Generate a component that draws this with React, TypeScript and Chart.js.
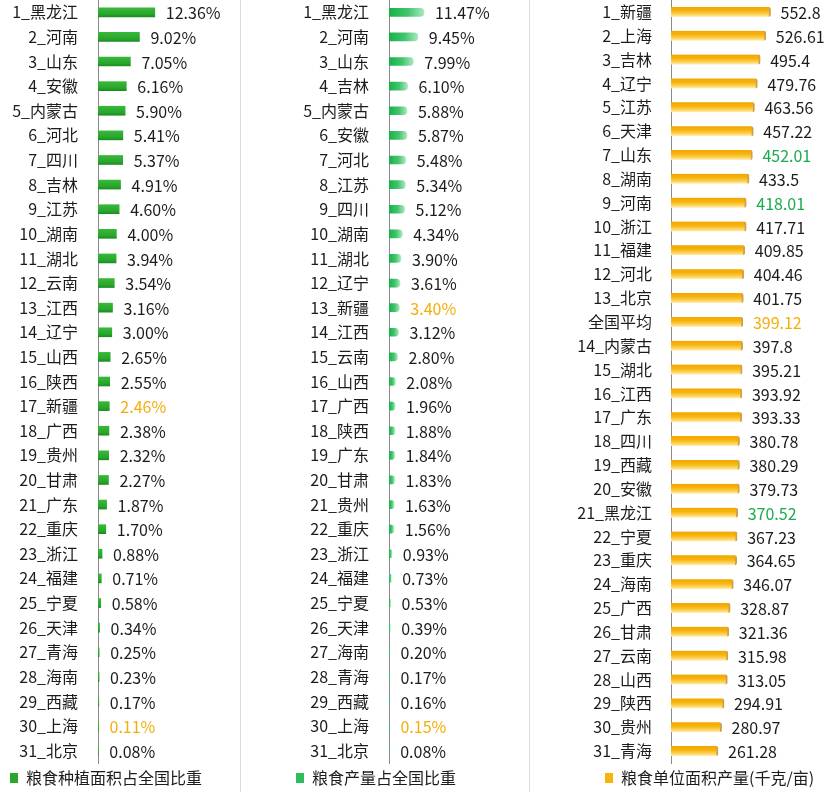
import { useEffect, useRef } from "react";
import { Chart, registerables } from "chart.js";

Chart.register(...registerables);

// 粮食种植面积占全国比重 (%)
const areaRegions = [
  "1_黑龙江", "2_河南", "3_山东", "4_安徽", "5_内蒙古", "6_河北", "7_四川", "8_吉林",
  "9_江苏", "10_湖南", "11_湖北", "12_云南", "13_江西", "14_辽宁", "15_山西", "16_陕西",
  "17_新疆", "18_广西", "19_贵州", "20_甘肃", "21_广东", "22_重庆", "23_浙江", "24_福建",
  "25_宁夏", "26_天津", "27_青海", "28_海南", "29_西藏", "30_上海", "31_北京",
];
const areaShares = [
  12.36, 9.02, 7.05, 6.16, 5.9, 5.41, 5.37, 4.91,
  4.6, 4.0, 3.94, 3.54, 3.16, 3.0, 2.65, 2.55,
  2.46, 2.38, 2.32, 2.27, 1.87, 1.7, 0.88, 0.71,
  0.58, 0.34, 0.25, 0.23, 0.17, 0.11, 0.08,
];

// 粮食产量占全国比重 (%)
const outputRegions = [
  "1_黑龙江", "2_河南", "3_山东", "4_吉林", "5_内蒙古", "6_安徽", "7_河北", "8_江苏",
  "9_四川", "10_湖南", "11_湖北", "12_辽宁", "13_新疆", "14_江西", "15_云南", "16_山西",
  "17_广西", "18_陕西", "19_广东", "20_甘肃", "21_贵州", "22_重庆", "23_浙江", "24_福建",
  "25_宁夏", "26_天津", "27_海南", "28_青海", "29_西藏", "30_上海", "31_北京",
];
const outputShares = [
  11.47, 9.45, 7.99, 6.1, 5.88, 5.87, 5.48, 5.34,
  5.12, 4.34, 3.9, 3.61, 3.4, 3.12, 2.8, 2.08,
  1.96, 1.88, 1.84, 1.83, 1.63, 1.56, 0.93, 0.73,
  0.53, 0.39, 0.2, 0.17, 0.16, 0.15, 0.08,
];

// 粮食单位面积产量 (千克/亩)
const yieldRegions = [
  "1_新疆", "2_上海", "3_吉林", "4_辽宁", "5_江苏", "6_天津", "7_山东", "8_湖南",
  "9_河南", "10_浙江", "11_福建", "12_河北", "13_北京", "全国平均", "14_内蒙古", "15_湖北",
  "16_江西", "17_广东", "18_四川", "19_西藏", "20_安徽", "21_黑龙江", "22_宁夏", "23_重庆",
  "24_海南", "25_广西", "26_甘肃", "27_云南", "28_山西", "29_陕西", "30_贵州", "31_青海",
];
const yieldValues = [
  552.8, 526.61, 495.4, 479.76, 463.56, 457.22, 452.01, 433.5,
  418.01, 417.71, 409.85, 404.46, 401.75, 399.12, 397.8, 395.21,
  393.92, 393.33, 380.78, 380.29, 379.73, 370.52, 367.23, 364.65,
  346.07, 328.87, 321.36, 315.98, 313.05, 294.91, 280.97, 261.28,
];

const INK = "#1c1c1c";
const ORANGE = "#f4ae0a";
const GREEN_TEXT = "#1aab4b";
const FONT_FAMILY = '"Noto Sans CJK SC", "Noto Sans", sans-serif';
const HEIGHT = 792;
const LEGEND_PAD = 3;
const LEGEND_DROP = 4;

const areaHighlights: Record<string, string> = { "17_新疆": ORANGE, "30_上海": ORANGE };
const outputHighlights: Record<string, string> = { "13_新疆": ORANGE, "30_上海": ORANGE };
const yieldHighlights: Record<string, string> = {
  "7_山东": GREEN_TEXT,
  "9_河南": GREEN_TEXT,
  "全国平均": ORANGE,
  "21_黑龙江": GREEN_TEXT,
};

type Fill = (
  ctx: CanvasRenderingContext2D,
  x0: number,
  x1: number,
  y: number,
  h: number
) => string | CanvasGradient;

interface PanelSpec {
  labels: string[];
  values: number[];
  legend: string;
  width: number;
  max: number;
  axisX: number;
  labelGap: number;
  legendX: number;
  valueGap: number;
  barH: number;
  format: (v: number) => string;
  highlights: Record<string, string>;
  swatch: string;
  fill: Fill;
  radius: any;
  edge: any;
  edgeColor: string;
}

const solidGreen: Fill = (ctx, _x0, _x1, y, h) => {
  const g = ctx.createLinearGradient(0, y - h / 2, 0, y + h / 2);
  g.addColorStop(0, "#38b83a");
  g.addColorStop(0.7, "#29a62c");
  g.addColorStop(1, "#1b8d21");
  return g;
};

const fadingGreen: Fill = (ctx, x0, x1) => {
  const g = ctx.createLinearGradient(x0, 0, Math.max(x1, x0 + 1), 0);
  g.addColorStop(0, "#17b04a");
  g.addColorStop(0.55, "#43c56e");
  g.addColorStop(1, "#a9e8bd");
  return g;
};

const goldTube: Fill = (ctx, _x0, _x1, y, h) => {
  const g = ctx.createLinearGradient(0, y - h / 2, 0, y + h / 2);
  g.addColorStop(0, "#f2a600");
  g.addColorStop(0.4, "#f7b40e");
  g.addColorStop(0.75, "#fdd35a");
  g.addColorStop(1, "#fff0bd");
  return g;
};

const pct = (v: number) => `${v.toFixed(2)}%`;

const panels: PanelSpec[] = [
  {
    labels: areaRegions,
    values: areaShares,
    legend: "粮食种植面积占全国比重",
    width: 240,
    max: 30.9,
    axisX: 98,
    labelGap: 20,
    legendX: 10,
    valueGap: 11,
    barH: 9,
    format: pct,
    highlights: areaHighlights,
    swatch: "#2aa62d",
    fill: solidGreen,
    radius: 0,
    edge: 0,
    edgeColor: "#2aa62d",
  },
  {
    labels: outputRegions,
    values: outputShares,
    legend: "粮食产量占全国比重",
    width: 288,
    max: 45.9,
    axisX: 148,
    labelGap: 20,
    legendX: 55,
    valueGap: 11,
    barH: 8,
    format: pct,
    highlights: outputHighlights,
    swatch: "#2ebd5c",
    fill: fadingGreen,
    radius: 4,
    edge: 0,
    edgeColor: "#2ebd5c",
  },
  {
    labels: yieldRegions,
    values: yieldValues,
    legend: "粮食单位面积产量(千克/亩)",
    width: 302,
    max: 894,
    axisX: 141,
    labelGap: 19,
    legendX: 75,
    valueGap: 10,
    barH: 10,
    format: (v) => String(v),
    highlights: yieldHighlights,
    swatch: "#f7b20c",
    fill: goldTube,
    radius: { topRight: 2, bottomRight: 2 },
    edge: { top: 0, bottom: 0, left: 0, right: 2 },
    edgeColor: "#d1a04a",
  },
];

// Writes each bar's value just past its end.
function valueLabels(spec: PanelSpec) {
  return {
    id: "valueLabels",
    afterDatasetsDraw(chart: any) {
      const ctx: CanvasRenderingContext2D = chart.ctx;
      const meta = chart.getDatasetMeta(0);
      ctx.save();
      ctx.font = `16px ${FONT_FAMILY}`;
      ctx.textBaseline = "middle";
      ctx.textAlign = "left";
      meta.data.forEach((bar: any, i: number) => {
        ctx.fillStyle = spec.highlights[spec.labels[i]] ?? INK;
        ctx.fillText(spec.format(spec.values[i]), bar.x + spec.valueGap, bar.y + 1);
      });
      ctx.restore();
    },
  };
}

// Moves the bottom legend so its swatch sits at spec.legendX, a little lower.
function legendShift(spec: PanelSpec) {
  return {
    id: "legendShift",
    afterLayout(chart: any) {
      const lg = chart.legend;
      if (!lg) return;
      const dx = spec.legendX - LEGEND_PAD - lg.left;
      lg.left += dx;
      lg.right += dx;
      lg.top += LEGEND_DROP;
      lg.bottom += LEGEND_DROP;
    },
  };
}

function Panel({ spec, left, divider }: { spec: PanelSpec; left: number; divider: boolean }) {
  const ref = useRef<HTMLCanvasElement | null>(null);

  useEffect(() => {
    if (!ref.current) return;
    const chart = new Chart(ref.current, {
      type: "bar",
      data: {
        labels: spec.labels,
        datasets: [
          {
            label: spec.legend,
            data: spec.values,
            barThickness: spec.barH,
            borderWidth: spec.edge,
            borderColor: spec.edgeColor,
            borderRadius: spec.radius,
            borderSkipped: "start",
            backgroundColor: (c: any) => {
              const ch = c.chart;
              const xs = ch.scales?.x;
              const ys = ch.scales?.y;
              if (c.type !== "data" || !xs || !ys) return spec.swatch;
              const y = ys.getPixelForValue(c.dataIndex);
              const x0 = xs.getPixelForValue(0);
              const x1 = xs.getPixelForValue(spec.values[c.dataIndex]);
              if (![y, x0, x1].every(Number.isFinite)) return spec.swatch;
              return spec.fill(ch.ctx, x0, x1, y, spec.barH);
            },
          },
        ],
      },
      options: {
        indexAxis: "y",
        responsive: false,
        animation: false,
        devicePixelRatio: 1,
        layout: { padding: 0 },
        scales: {
          x: { display: false, min: 0, max: spec.max },
          y: {
            type: "category",
            offset: true,
            grid: { display: false, drawTicks: false },
            border: { display: true, color: "#8a8a8a", width: 1 },
            ticks: {
              padding: spec.labelGap,
              color: INK,
              autoSkip: false,
              font: { size: 16, family: FONT_FAMILY },
            },
            afterFit: (scale: any) => {
              scale.width = spec.axisX;
              scale.paddingTop = 0;
              scale.paddingBottom = 0;
            },
          },
        },
        plugins: {
          legend: {
            position: "bottom",
            align: "start",
            labels: {
              boxWidth: 8,
              boxHeight: 10,
              padding: LEGEND_PAD,
              color: INK,
              font: { size: 16, family: FONT_FAMILY },
              generateLabels: () => [
                {
                  text: spec.legend,
                  fillStyle: spec.swatch,
                  strokeStyle: spec.swatch,
                  lineWidth: 0,
                  hidden: false,
                  datasetIndex: 0,
                  fontColor: INK,
                },
              ],
            },
          },
          tooltip: { enabled: false },
        },
      },
      plugins: [valueLabels(spec), legendShift(spec)],
    } as any);
    return () => chart.destroy();
  }, [spec]);

  return (
    <div
      style={{
        position: "absolute",
        left,
        top: 0,
        width: spec.width,
        height: HEIGHT,
        borderRight: divider ? "1px solid #dcdcdc" : "none",
      }}
    >
      <canvas ref={ref} width={spec.width} height={HEIGHT} style={{ display: "block" }} />
    </div>
  );
}

export default function App() {
  return (
    <div
      style={{
        position: "fixed",
        left: 0,
        top: 0,
        width: 832,
        height: HEIGHT,
        background: "#ffffff",
        overflow: "hidden",
      }}
    >
      <Panel spec={panels[0]} left={0} divider />
      <Panel spec={panels[1]} left={241} divider />
      <Panel spec={panels[2]} left={530} divider={false} />
    </div>
  );
}
